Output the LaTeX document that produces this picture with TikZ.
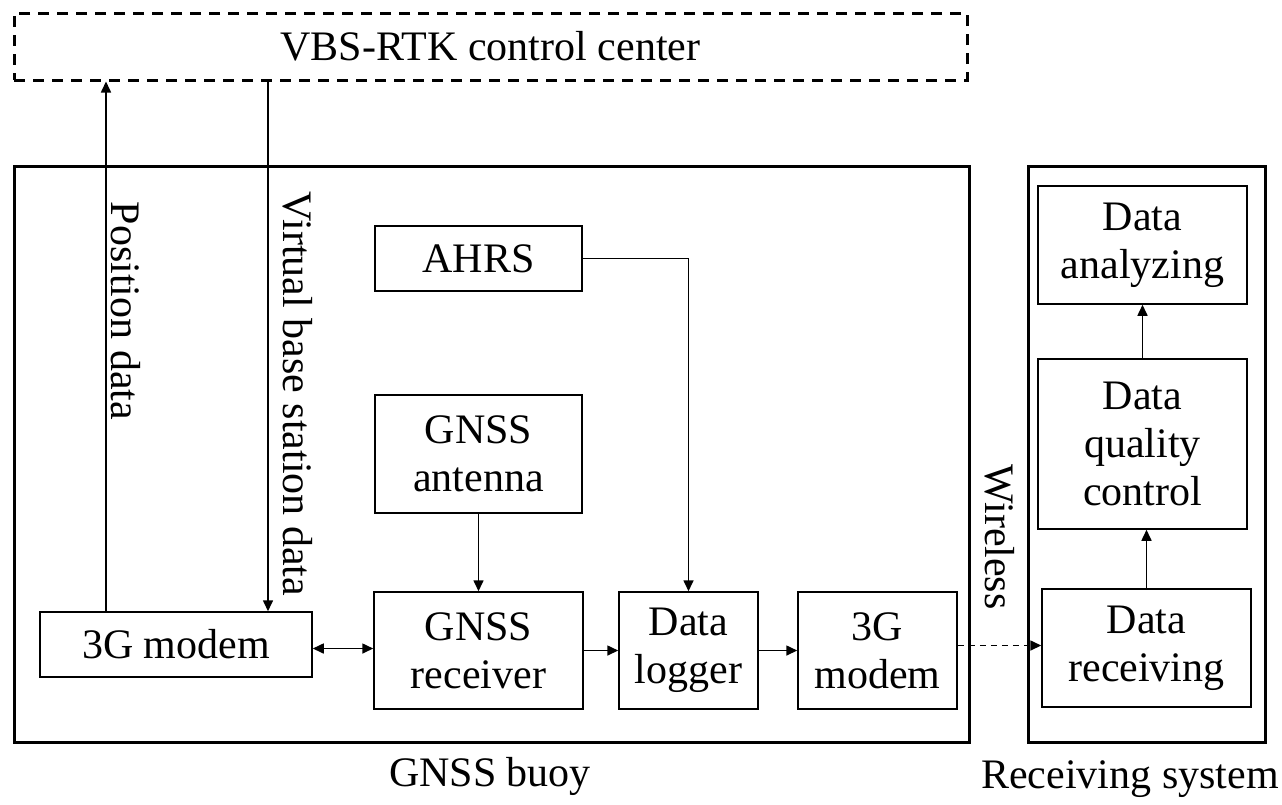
\documentclass[tikz,border=0pt]{standalone}
\usepackage{fontspec}
\setmainfont{Liberation Serif}
\usepackage{tikz}
\usetikzlibrary{arrows.meta, positioning, calc}

\begin{document}
\begin{tikzpicture}[
  x=1pt, y=-1pt,
  every node/.style={font=\fontsize{42}{48}\selectfont},
  blk/.style={draw, line width=1.5pt, align=center, inner sep=0pt},
  frame/.style={draw, line width=3pt, inner sep=0pt},
  arr/.style={-{Triangle[length=11pt, width=10pt]}, line width=1.6pt},
  darr/.style={{Triangle[length=11pt, width=10pt]}-{Triangle[length=11pt, width=10pt]}, line width=1.6pt},
]
  \useasboundingbox (0,0) rectangle (1282,804);

  \node[frame, dashed, dash pattern=on 11pt off 8pt, minimum width=953pt, minimum height=67pt]
       (vbs) at (490.5,46.5) {VBS-RTK control center};

  \node[frame, minimum width=955pt, minimum height=576pt] (buoy) at (491.5,454) {};
  \node[frame, minimum width=237pt, minimum height=576pt] (recvsys) at (1146.5,454) {};

  \node[blk, minimum width=207pt, minimum height=65pt] (ahrs) at (478.5,258.5) {AHRS};
  \node[blk, minimum width=207pt, minimum height=118pt] (ant) at (478.5,454) {GNSS\\antenna};
  \node[blk, minimum width=272pt, minimum height=65pt] (modemA) at (176,644.5) {3G modem};
  \node[blk, minimum width=209pt, minimum height=117pt] (rcv) at (478.5,650.5) {GNSS\\receiver};
  \node[blk, minimum width=139pt, minimum height=117pt] (logger) at (688.5,650.5) {Data\\logger};
  \node[blk, minimum width=159pt, minimum height=117pt] (modemB) at (877.5,650.5) {3G\\modem};

  \node[blk, minimum width=209pt, minimum height=118pt] (analyz) at (1142.5,245) {Data\\analyzing};
  \node[blk, minimum width=209pt, minimum height=170pt] (dqc) at (1142.5,444) {Data\\quality\\control};
  \node[blk, minimum width=209pt, minimum height=118pt] (drecv) at (1146.5,648) {Data\\receiving};

  \draw[arr] ([xshift=-70pt]modemA.north) -- ([xshift=-70pt]modemA.north |- vbs.south);
  \draw[arr] ([xshift=92pt]modemA.north |- vbs.south) -- ([xshift=92pt]modemA.north);
  \node[rotate=-90] (lblpos) at (126,311) {Position data};
  \node[rotate=-90] (lblvbs) at (298,394) {Virtual base station data};

  \draw[arr] (ahrs.east) -| (logger.north);
  \draw[arr] (ant.south) -- (rcv.north);
  \draw[darr] ([yshift=-4pt]modemA.east) -- ([yshift=-4pt]modemA.east -| rcv.west);
  \draw[arr] (rcv.east) -- (logger.west);
  \draw[arr] (logger.east) -- (modemB.west);

  \draw[arr, dash pattern=on 6pt off 5pt] ([yshift=5pt]modemB.east) -- ([yshift=5pt]modemB.east -| drecv.west);
  \node[rotate=-90] (lblwl) at (1000,537) {Wireless};

  \draw[arr] (drecv.north) -- (drecv.north |- dqc.south);
  \draw[arr] (dqc.north) -- (dqc.north |- analyz.south);

  \node (lblbuoy) at (490,776) {GNSS buoy};
  \node (lblrecv) at (1130,779) {Receiving system};
\end{tikzpicture}
\end{document}
